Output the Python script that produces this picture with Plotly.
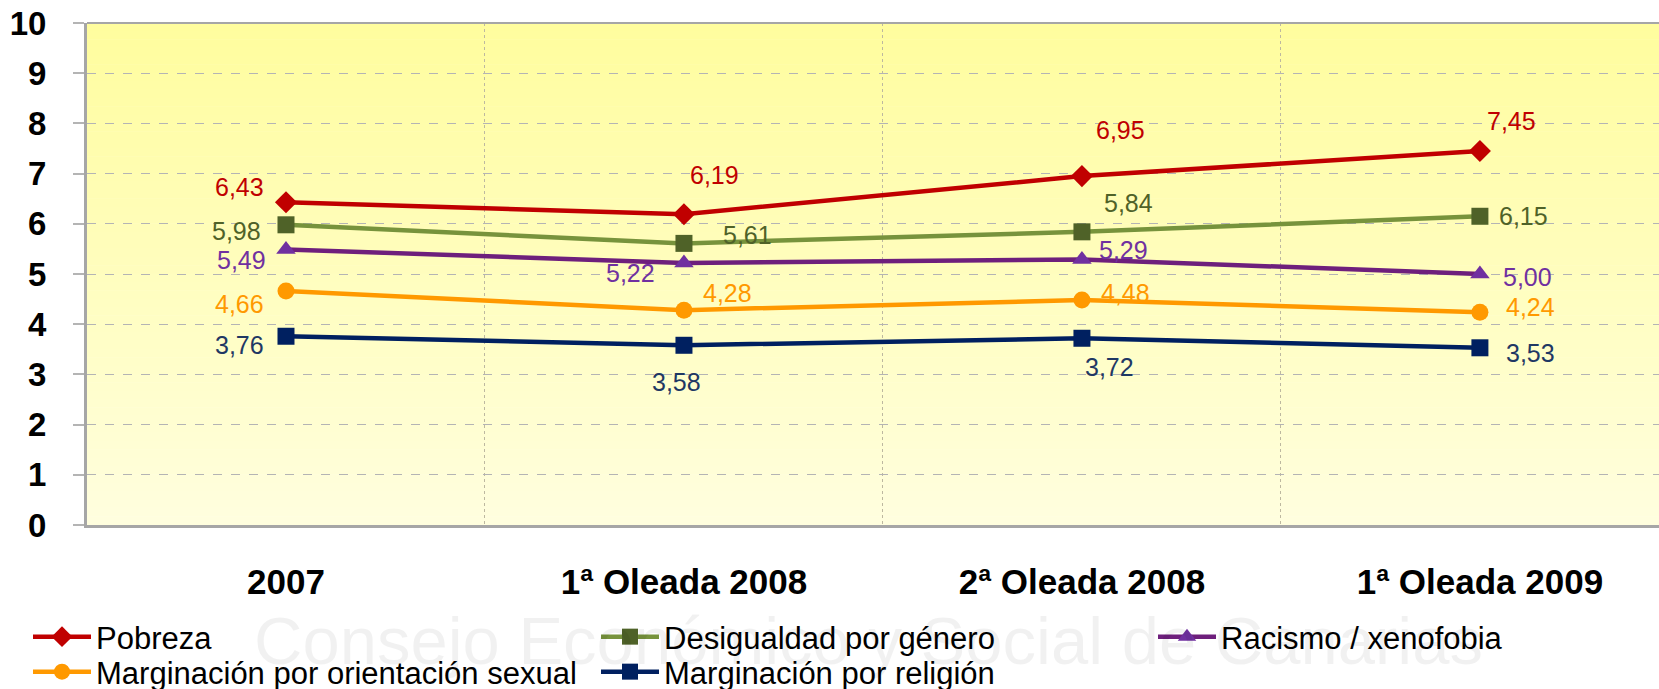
import plotly.graph_objects as go

categories = ["2007", "1ª Oleada 2008", "2ª Oleada 2008", "1ª Oleada 2009"]
pobreza = [6.43, 6.19, 6.95, 7.45]
desigualdad = [5.98, 5.61, 5.84, 6.15]
racismo = [5.49, 5.22, 5.29, 5.00]
orientacion = [4.66, 4.28, 4.48, 4.24]
religion = [3.76, 3.58, 3.72, 3.53]
y_ticks = [0, 1, 2, 3, 4, 5, 6, 7, 8, 9, 10]

W, H = 1659, 689
FONT = "Liberation Sans, Arial, sans-serif"
PL, PT, PB = 87, 23, 525  # plot area edges in px

series = [
    dict(name="Pobreza", y=pobreza, line="#C00000", marker="#C00000", label="#C00000",
         symbol="diamond", size=17, legend="legend", lx=28, ly=637,
         offs=[(-46, -15), (31, -39), (39, -46), (32, -30)]),
    dict(name="Desigualdad por género", y=desigualdad, line="#77933C", marker="#4F6228", label="#4F6228",
         symbol="square", size=17, legend="legend2", lx=596, ly=637,
         offs=[(-49, 6), (64, -8), (47, -29), (44, 0)]),
    dict(name="Racismo / xenofobia", y=racismo, line="#6E1F7C", marker="#7030A0", label="#7030A0",
         symbol="triangle-up", size=17, legend="legend3", lx=1153, ly=637,
         offs=[(-44, 11), (-53, 10), (42, -9), (48, 3)]),
    dict(name="Marginación por orientación sexual", y=orientacion, line="#FF9900", marker="#FF9900", label="#FF9900",
         symbol="circle", size=17, legend="legend4", lx=28, ly=672,
         offs=[(-46, 13), (44, -17), (44, -7), (51, -5)]),
    dict(name="Marginación por religión", y=religion, line="#002060", marker="#002060", label="#1F3864",
         symbol="square", size=17, legend="legend5", lx=596, ly=672,
         offs=[(-46, 9), (-7, 37), (28, 29), (51, 5)]),
]

fig = go.Figure()
annotations = []
legends = {}
for s in series:
    fig.add_trace(go.Scatter(
        x=categories, y=s["y"], name=s["name"], mode="lines+markers",
        line=dict(color=s["line"], width=4.5),
        marker=dict(color=s["marker"], symbol=s["symbol"], size=s["size"]),
        legend=s["legend"], hoverinfo="skip",
    ))
    legends[s["legend"]] = dict(
        x=s["lx"] / W, y=1 - s["ly"] / H,
        xref="container", yref="container", xanchor="left", yanchor="middle",
        bgcolor="rgba(0,0,0,0)",
        font=dict(family=FONT, size=31, color="#000000"),
        itemwidth=58, orientation="v",
    )
    # category axis: annotations are placed by category index
    for i, (v, (dx, dy)) in enumerate(zip(s["y"], s["offs"])):
        annotations.append(dict(
            x=i, y=v, xref="x", yref="y", text=f"{v:.2f}".replace(".", ","),
            showarrow=False, xshift=dx, yshift=-dy,
            font=dict(family=FONT, size=25, color=s["label"]),
        ))

# watermark (below the plot area, behind the legend)
annotations.insert(0, dict(
    x=(868 - PL) / (W - PL), y=(PB - 640) / (PB - PT), xref="paper", yref="paper",
    xanchor="center", yanchor="middle",
    text="Consejo Económico y Social de Canarias", showarrow=False,
    font=dict(family=FONT, size=67, color="rgba(0,0,0,0.055)"),
))

# gradient background for plot area
shapes = []
N = 60
top = (255, 253, 158)
bot = (255, 254, 222)
for i in range(N):
    t = i / (N - 1)
    col = tuple(round(top[k] + (bot[k] - top[k]) * t) for k in range(3))
    shapes.append(dict(
        type="rect", xref="paper", yref="paper", x0=0, x1=1,
        y0=1 - (i + 1) / N, y1=1 - i / N + 0.001,
        fillcolor="rgb(%d,%d,%d)" % col, line=dict(width=0), layer="below",
    ))
shapes.append(dict(type="line", xref="paper", yref="paper", x0=0, x1=1, y0=1, y1=1,
                   line=dict(color="#A6A6A6", width=2), layer="above"))

fig.update_layout(
    width=W, height=H,
    margin=dict(l=PL, r=0, t=PT, b=H - PB, autoexpand=False),
    paper_bgcolor="white", plot_bgcolor="rgba(0,0,0,0)",
    showlegend=True,
    xaxis=dict(
        type="category", range=[-0.5, 3.45], tickson="boundaries",
        showgrid=True, gridcolor="#BDB8A0", griddash="dot", gridwidth=1,
        showline=True, linecolor="#A6A6A6", linewidth=3,
        ticks="", ticklabelstandoff=24, tickangle=0, automargin=False,
        tickfont=dict(family=FONT, size=35, color="#000000", weight="bold"),
        zeroline=False, fixedrange=True,
    ),
    yaxis=dict(
        range=[0, 10], tickvals=y_ticks, ticktext=[str(v) for v in y_ticks],
        showgrid=True, gridcolor="#B4B4B4", griddash="dash", gridwidth=1,
        showline=True, linecolor="#A6A6A6", linewidth=3,
        ticks="outside", ticklen=11, tickcolor="#B4B4B4", tickwidth=2,
        ticklabelstandoff=20, automargin=False,
        tickfont=dict(family=FONT, size=33, color="#000000", weight="bold"),
        zeroline=False, fixedrange=True,
    ),
    annotations=annotations,
    shapes=shapes,
    **legends,
)

fig.write_html("out.html", config={"displayModeBar": False},
               post_script="document.body.style.margin='0';document.body.style.overflow='hidden';")
